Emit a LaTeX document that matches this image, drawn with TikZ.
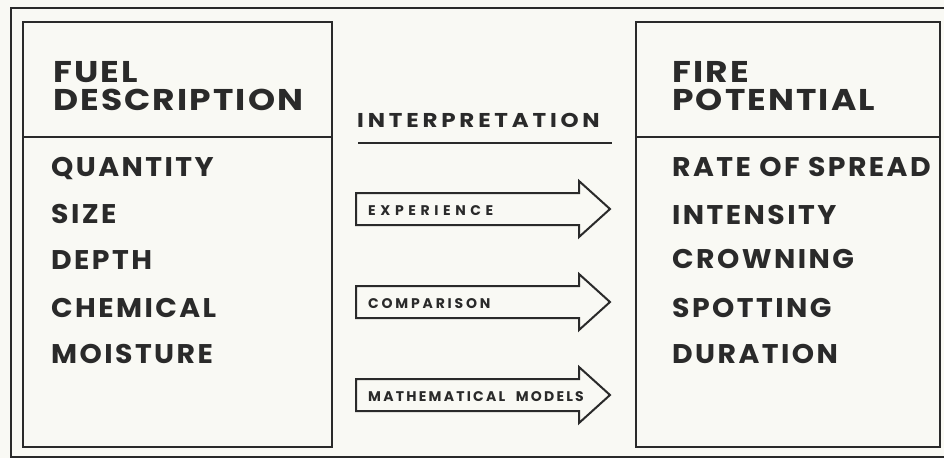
\documentclass[tikz,border=0pt]{standalone}
\usepackage{fontspec}
\setmainfont{Poppins}
\newfontfamily\headfont{Poppins}[FakeStretch=1.15, LetterSpace=7]
\newfontfamily\itemfont{Poppins}[FakeStretch=1.05, LetterSpace=9]
\newfontfamily\tagfont{Poppins}
\definecolor{paper}{HTML}{F9F9F4}
\definecolor{ink}{HTML}{2A2A2A}
\newcommand{\BodyL}{356}
\newcommand{\BodyR}{579}
\newcommand{\Tip}{610}
\newcommand{\BodyH}{16}
\newcommand{\HeadH}{28}

\begin{document}
\begin{tikzpicture}[x=1pt, y=-1pt, ink,
    frame/.style={draw=ink, line width=2pt},
    heading/.style={anchor=base west, inner sep=0pt, font=\headfont\bfseries\fontsize{30}{30}\selectfont},
    item/.style={anchor=base west, inner sep=0pt, font=\itemfont\bfseries\fontsize{27}{27}\selectfont},
    tag/.style={anchor=base west, inner sep=0pt, font=\tagfont\bfseries\fontsize{14}{14}\selectfont},
  ]
% --- Background and outer frame ---------------------------------------------------------
\fill[paper] (0,0) rectangle (944,458);
\clip (0,0) rectangle (944,458);
\draw[ink, line width=1.5pt] (11,8) rectangle (960,457);

% --- The two boxes, each with a heading strip ---------------------------------------------
\draw[frame] (23,22) rectangle (332,447);
\draw[frame] (23,137) -- (332,137);
\draw[frame] (636,22) rectangle (940,447);
\draw[frame] (636,137) -- (940,137);

\node[heading] (fuel) at (53,82) {FUEL};
\node[heading] (description) at (53,110) {DESCRIPTION};
\node[heading] (fire) at (672,82) {FIRE};
\node[heading] (potential) at (672,110) {POTENTIAL};

% --- What describes the fuel, and what the fire can do ---------------------------------------
\foreach \y/\name/\txt in {176/quantity/QUANTITY, 223/size/SIZE, 269/depth/DEPTH, 317/chemical/CHEMICAL, 363/moisture/MOISTURE}
  \node[item] (\name) at (51,\y) {\txt};
\foreach \y/\name/\txt in {176/spread/RATE OF SPREAD, 224/intensity/INTENSITY, 268/crowning/CROWNING, 317/spotting/SPOTTING, 363/duration/DURATION}
  \node[item] (\name) at (672,\y) {\txt};

% --- Interpretation: three block arrows ------------------------------------------------------
\node[anchor=base west, inner sep=0pt, font=\headfont\addfontfeature{LetterSpace=19}\bfseries\fontsize{20}{20}\selectfont] (interp) at (357,127) {INTERPRETATION};
\draw[ink, line width=2pt] (interp.base west) ++(1,16) -- ++(254,0);

\foreach \y/\name/\txt/\ls in {209/experience/EXPERIENCE/33, 302/comparison/COMPARISON/20, 395/models/MATHEMATICAL\ \ MODELS/16} {
  \draw[ink, line width=2pt, line join=miter]
    (\BodyL,\y-\BodyH) -- (\BodyR,\y-\BodyH) -- (\BodyR,\y-\HeadH) -- (\Tip,\y)
    -- (\BodyR,\y+\HeadH) -- (\BodyR,\y+\BodyH) -- (\BodyL,\y+\BodyH) -- cycle;
  \node[tag, font=\tagfont\addfontfeature{LetterSpace=\ls}\bfseries\fontsize{14}{14}\selectfont] (\name) at (368,\y+6) {\txt};
}
\end{tikzpicture}
\end{document}
